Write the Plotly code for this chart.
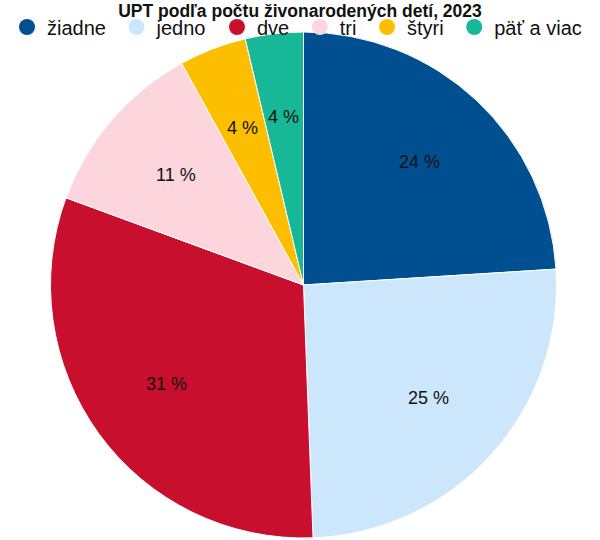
import math
import plotly.graph_objects as go

categories = ["žiadne", "jedno", "dve", "tri", "štyri", "päť a viac"]
values = [24.0, 25.4, 31.2, 11.4, 4.3, 3.7]
colors = ["#004f91", "#cce6fb", "#c8102e", "#fcd6dc", "#fdbe00", "#16b898"]
title_text = "UPT podľa počtu živonarodených detí, 2023"

FONT = "Liberation Sans, Arial, Helvetica, sans-serif"
W, H = 600, 540
CX, CY, R = 303.5, 285, 253  # pie centre / radius in px
dom_x = [(CX - R) / W, (CX + R) / W]
dom_y = [1 - (CY + R) / H, 1 - (CY - R) / H]

fig = go.Figure()
fig.add_trace(go.Pie(
    labels=categories,
    values=values,
    sort=False,
    direction="clockwise",
    rotation=0,
    marker=dict(colors=colors, line=dict(color="white", width=1)),
    textinfo="none",
    hoverinfo="label+percent",
    showlegend=False,
    domain=dict(x=dom_x, y=dom_y),
))

# value labels on each slice bisector at 2/3 of the radius
total = sum(values)
cum = 0.0
for v in values:
    mid = (cum + v / 2) / total * 2 * math.pi
    cum += v
    px = CX + 0.667 * R * math.sin(mid)
    py = CY - 0.667 * R * math.cos(mid)
    fig.add_annotation(
        x=px / W, y=1 - py / H, xref="paper", yref="paper",
        text=f"{round(v / total * 100):.0f} %", showarrow=False,
        xanchor="center", yanchor="middle",
        font=dict(family=FONT, size=18, color="#111111"),
    )

for name, col in zip(categories, colors):
    fig.add_trace(go.Scatter(
        x=[None], y=[None], mode="markers", name=name + "\u00a0",
        marker=dict(symbol="circle", size=16, color=col),
        showlegend=True,
    ))

fig.update_layout(
    width=W, height=H,
    margin=dict(l=0, r=0, t=0, b=0, autoexpand=False),
    paper_bgcolor="white", plot_bgcolor="white",
    title=dict(text="<b>" + title_text + "</b>", x=0.5, xanchor="center",
               y=1 - 10.5 / H, yanchor="middle",
               font=dict(family=FONT, size=17.5, color="#111111")),
    legend=dict(orientation="h", x=0.5, xanchor="center",
                y=1 - 27 / H, yanchor="middle",
                font=dict(family=FONT, size=20, color="#111111"),
                itemclick=False, bgcolor="rgba(0,0,0,0)"),
    xaxis=dict(visible=False),
    yaxis=dict(visible=False),
    font=dict(family=FONT),
)

fig.write_html("out.html", config={"displayModeBar": False},
               post_script="document.body.style.margin='0';document.body.style.padding='0';")
